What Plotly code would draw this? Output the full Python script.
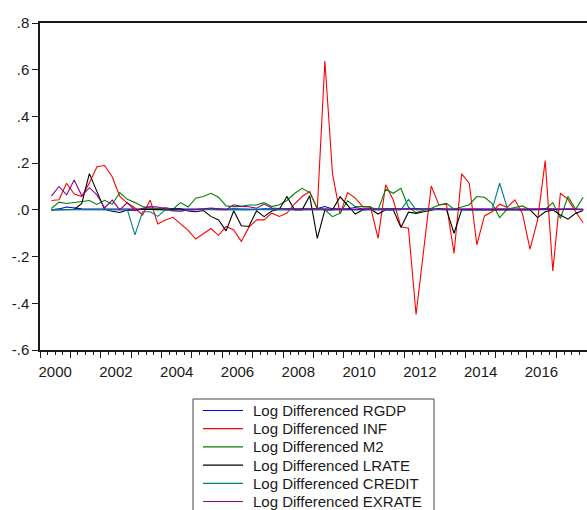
import pandas as pd
import plotly.graph_objects as go

# Quarterly log-differenced series, 2000Q2 - 2017Q4
quarters = pd.period_range("2000Q2", "2017Q4", freq="Q")

rgdp = [0.000, 0.004, 0.012, 0.007, 0.004, 0.003, 0.003, 0.002, 0.002, 0.003,
        0.002, 0.002, 0.003, 0.004, 0.005, 0.009, 0.004, 0.003, 0.002, 0.003,
        0.003, 0.004, 0.002, 0.003, 0.004, 0.003, 0.003, 0.002, 0.004, 0.003,
        0.003, 0.004, 0.003, 0.004, 0.003, 0.006, 0.014, 0.004, 0.003, 0.005,
        0.010, 0.004, 0.003, 0.004, 0.003, 0.004, 0.003, 0.003, 0.004, 0.003,
        0.004, 0.003, 0.003, 0.004, 0.003, 0.002, 0.003, 0.003, 0.004, 0.003,
        0.003, 0.004, 0.003, 0.002, 0.003, 0.006, 0.003, 0.002, 0.003, 0.002,
        0.002]

inf = [0.040, 0.043, 0.114, 0.068, 0.057, 0.115, 0.185, 0.190, 0.142, 0.058,
       0.029, 0.008, -0.022, 0.042, -0.060, -0.043, -0.032, -0.060, -0.088, -0.125,
       -0.103, -0.080, -0.109, -0.071, -0.086, -0.135, -0.074, -0.043, -0.043, -0.014,
       -0.028, -0.014, 0.025, 0.057, 0.078, 0.004, 0.637, 0.155, -0.017, 0.074,
       0.050, 0.014, 0.014, -0.122, 0.107, 0.042, -0.072, -0.079, -0.448, -0.175,
       0.102, 0.021, 0.024, -0.186, 0.154, 0.114, -0.150, -0.026, -0.008, 0.024,
       0.011, 0.043, -0.015, -0.168, -0.043, 0.211, -0.262, 0.071, 0.045, -0.008,
       -0.055]

m2 = [0.006, 0.033, 0.027, 0.030, 0.036, 0.040, 0.023, 0.041, 0.024, 0.074,
      0.045, 0.031, 0.014, 0.008, 0.007, 0.007, 0.003, 0.031, 0.012, 0.050,
      0.057, 0.071, 0.054, 0.017, 0.014, 0.015, 0.021, 0.021, 0.031, 0.014,
      0.022, 0.040, 0.070, 0.092, 0.074, 0.007, 0.000, -0.029, -0.014, 0.039,
      0.014, 0.014, 0.011, 0.000, 0.088, 0.071, 0.092, 0.011, -0.012, -0.002,
      0.007, 0.021, 0.028, 0.003, 0.012, 0.022, 0.057, 0.054, 0.028, -0.033,
      0.003, 0.011, 0.017, 0.000, 0.002, 0.002, 0.031, -0.036, 0.057, 0.002,
      0.054]

lrate = [0.000, 0.000, 0.000, 0.002, 0.028, 0.155, 0.078, 0.002, -0.006, -0.011,
         0.000, -0.002, 0.003, 0.002, 0.002, 0.000, 0.003, 0.005, -0.005, -0.008,
         -0.003, -0.028, -0.043, -0.090, -0.004, -0.068, -0.071, -0.004, -0.029, -0.005,
         0.003, 0.057, 0.000, 0.000, 0.060, -0.122, 0.000, 0.000, 0.056, 0.020,
         -0.018, 0.000, 0.003, -0.018, 0.000, 0.000, -0.075, -0.010, -0.015, -0.008,
         0.000, 0.005, 0.002, -0.100, 0.000, 0.000, 0.000, 0.000, 0.002, 0.000,
         0.000, 0.003, 0.000, 0.000, -0.033, -0.008, 0.000, -0.022, -0.040, -0.015,
         -0.003]

credit = [0.001, 0.001, 0.000, 0.001, 0.001, 0.000, 0.001, 0.000, 0.001, 0.000,
          0.000, -0.107, -0.008, -0.008, -0.028, 0.000, -0.005, -0.005, 0.000, 0.001,
          0.002, 0.001, 0.000, 0.001, 0.002, 0.001, 0.000, 0.001, 0.002, 0.001,
          0.000, 0.001, 0.002, 0.001, 0.000, 0.001, 0.002, 0.001, 0.000, 0.002,
          0.001, 0.000, 0.001, 0.002, 0.001, 0.000, 0.000, 0.045, 0.000, 0.001,
          0.002, 0.001, 0.000, 0.001, 0.002, 0.001, 0.000, 0.001, 0.000, 0.114,
          0.008, 0.001, 0.000, 0.001, 0.002, 0.001, 0.000, 0.001, 0.005, 0.001,
          0.000]

exrate = [0.059, 0.100, 0.064, 0.128, 0.060, 0.095, 0.064, 0.008, 0.042, 0.000,
          0.031, -0.003, 0.007, 0.014, 0.012, 0.004, -0.003, -0.006, 0.000, 0.001,
          0.003, 0.008, 0.004, 0.001, 0.022, 0.015, 0.013, 0.007, 0.025, 0.008,
          0.006, 0.004, 0.002, 0.003, 0.005, 0.006, 0.004, 0.003, 0.002, 0.004,
          0.003, 0.002, 0.003, 0.004, 0.002, 0.003, 0.004, 0.005, 0.006, 0.005,
          0.004, 0.003, 0.002, 0.003, 0.002, 0.003, 0.002, 0.001, 0.002, 0.003,
          0.002, 0.001, 0.002, 0.003, 0.002, 0.001, 0.002, 0.003, 0.002, 0.001,
          0.002]

names = ["Log Differenced RGDP", "Log Differenced INF", "Log Differenced M2",
         "Log Differenced LRATE", "Log Differenced CREDIT", "Log Differenced EXRATE"]
values = [rgdp, inf, m2, lrate, credit, exrate]
colors = ["#0000E6", "#FF0000", "#008000", "#000000", "#008080", "#8B008B"]

y_ticks = [0.8, 0.6, 0.4, 0.2, 0.0, -0.2, -0.4, -0.6]
y_tick_text = [".8", ".6", ".4", ".2", ".0", "-.2", "-.4", "-.6"]
year_labels = ["2000", "2002", "2004", "2006", "2008", "2010", "2012", "2014", "2016"]

# figure geometry (pixels)
W, H = 587, 510
L, R, T, B = 40, 0, 23, 160
plot_w, plot_h = W - L - R, H - T - B


def px_x(p):
    return (p - L) / plot_w


def px_y(p):
    return (H - B - p) / plot_h


# each quarter sits in the middle of its quarter-year slot
x = [q.year + (q.quarter - 1) / 4 + 0.125 for q in quarters]

fig = go.Figure()
for name, vals, color in zip(names, values, colors):
    fig.add_trace(go.Scatter(x=x, y=vals, mode="lines", name=name,
                             showlegend=False,
                             line=dict(color=color, width=1.1)))

# helper axis carrying the yearly and quarterly tick marks
fig.add_trace(go.Scatter(x=[], y=[], xaxis="x2", showlegend=False, hoverinfo="skip"))

axis_col = "#1a1a1a"
font = dict(family="Arial, Liberation Sans, sans-serif", size=15, color="#1a1a1a")

# boxed key below the chart
shapes = [dict(type="rect", xref="paper", yref="paper",
               x0=px_x(193), x1=px_x(434), y0=px_y(399), y1=px_y(512),
               line=dict(color="#444", width=1), fillcolor="white", layer="below")]
annotations = []
row0, row_gap = 410.5, 18.2
for k, (name, color) in enumerate(zip(names, colors)):
    yk = px_y(row0 + row_gap * k)
    shapes.append(dict(type="line", xref="paper", yref="paper",
                       x0=px_x(203), x1=px_x(243), y0=yk, y1=yk,
                       line=dict(color=color, width=1.2)))
    annotations.append(dict(text=name, xref="paper", yref="paper",
                            x=px_x(251), y=yk, xanchor="left", yanchor="middle",
                            showarrow=False, font=font))

fig.update_layout(
    width=W, height=H,
    margin=dict(l=L, r=R, t=T, b=B, autoexpand=False),
    paper_bgcolor="white", plot_bgcolor="white",
    font=font,
    showlegend=False,
    shapes=shapes,
    annotations=annotations,
    xaxis=dict(range=[2000, 2018], showgrid=False, zeroline=False,
               showline=True, linecolor=axis_col, linewidth=1.5, mirror=True,
               tickmode="array",
               tickvals=[int(s) + 0.5 for s in year_labels],
               ticktext=year_labels,
               ticks="outside", ticklen=7, tickcolor="rgba(0,0,0,0)"),
    xaxis2=dict(range=[2000, 2018], overlaying="x", anchor="y", side="bottom",
                showgrid=False, zeroline=False, showline=False,
                showticklabels=False, tick0=2000, dtick=1,
                ticks="outside", ticklen=7, tickwidth=1.2, tickcolor=axis_col,
                minor=dict(dtick=0.25, tick0=2000, ticks="outside", ticklen=4,
                           tickwidth=1.2, tickcolor=axis_col, showgrid=False)),
    yaxis=dict(range=[-0.6, 0.8], showgrid=False, zeroline=False,
               showline=True, linecolor=axis_col, linewidth=1.5,
               tickmode="array", tickvals=y_ticks, ticktext=y_tick_text,
               ticks="outside", ticklen=6, tickwidth=1.2, tickcolor=axis_col),
)

fig.write_html("out.html")
